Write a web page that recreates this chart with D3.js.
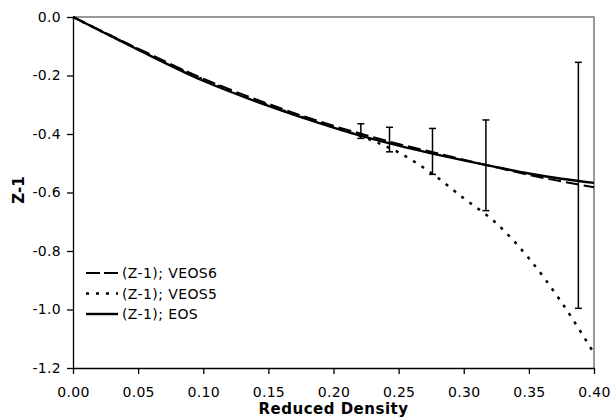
<!DOCTYPE html>
<html>
<head>
<meta charset="utf-8">
<script src="https://cdn.jsdelivr.net/npm/d3@7"></script>
<style>
  body { margin: 0; background: #fff; }
  svg { font-family: "DejaVu Sans", Verdana, sans-serif; }
</style>
</head>
<body>
<svg id="chart"></svg>
<script>
// reduced density grid for the curves
const density = [0, 0.05, 0.10, 0.15, 0.20, 0.225, 0.25, 0.275, 0.30, 0.325, 0.35, 0.375, 0.40];
const veos6 = [0, -0.108, -0.211, -0.297, -0.372, -0.404, -0.434, -0.461, -0.488, -0.514, -0.540, -0.562, -0.582];
const veos5 = [0, -0.110, -0.214, -0.302, -0.377, -0.414, -0.463, -0.533, -0.620, -0.705, -0.825, -0.975, -1.150];
const eos = [0, -0.112, -0.218, -0.304, -0.378, -0.411, -0.440, -0.466, -0.490, -0.513, -0.535, -0.553, -0.567];

// error bars
const errX = [0.221, 0.243, 0.276, 0.317, 0.388];
const errLow = [-0.415, -0.461, -0.538, -0.662, -0.996];
const errHigh = [-0.365, -0.377, -0.381, -0.352, -0.155];

const xTicks = [0, 0.05, 0.10, 0.15, 0.20, 0.25, 0.30, 0.35, 0.40];
const yTicks = [0, -0.2, -0.4, -0.6, -0.8, -1.0, -1.2];

const width = 612, height = 418;
const margin = { top: 17, right: 18, bottom: 50, left: 73 };

const svg = d3.select('#chart').attr('width', width).attr('height', height);

const x = d3.scaleLinear().domain([0, 0.4]).range([margin.left, width - margin.right]);
const y = d3.scaleLinear().domain([-1.2, 0]).range([height - margin.bottom, margin.top]);

// top and right frame (gray)
svg.append('path')
  .attr('d', `M${x(0)},${y(0)}H${x(0.4)}V${y(-1.2)}`)
  .attr('fill', 'none')
  .attr('stroke', '#777')
  .attr('stroke-width', 1.5);

const xAxis = d3.axisBottom(x).tickValues(xTicks).tickSize(6).tickSizeOuter(0);
const yAxis = d3.axisLeft(y).tickValues(yTicks).tickSize(6).tickSizeOuter(0);

const gx = svg.append('g')
  .attr('transform', `translate(0,${y(-1.2)})`)
  .call(xAxis);
const gy = svg.append('g')
  .attr('transform', `translate(${x(0)},0)`)
  .call(yAxis);

[gx, gy].forEach((g) => {
  g.selectAll('path, line').attr('stroke', '#000').attr('stroke-width', 1.3);
  g.selectAll('text').attr('fill', '#000').style('font-size', '14px')
    .style('letter-spacing', '0.3px')
    .style('font-family', '"DejaVu Sans", Verdana, sans-serif');
});
gx.selectAll('text').attr('y', 19).text((d) => d3.format('.2f')(d));
gy.selectAll('text').attr('x', -12).text((d) => d3.format('.1f')(d).replace('−', '-'));

// axis titles
svg.append('text')
  .attr('x', x(0.2))
  .attr('y', 414)
  .attr('text-anchor', 'middle')
  .style('font-size', '15px')
  .style('font-weight', 'bold')
  .style('letter-spacing', '0.5px')
  .text('Reduced Density');

svg.append('text')
  .attr('transform', `translate(24,190) rotate(-90)`)
  .attr('text-anchor', 'middle')
  .style('font-size', '15px')
  .style('font-weight', 'bold')
  .text('Z-1');

// curves
const line = d3.line()
  .x((d) => x(d[0]))
  .y((d) => y(d[1]))
  .curve(d3.curveMonotoneX);

const series = [
  { name: '(Z-1); VEOS6', values: veos6, dash: '13,5', w: 2 },
  { name: '(Z-1); VEOS5', values: veos5, dash: '3,7', w: 2.5 },
  { name: '(Z-1); EOS', values: eos, dash: null, w: 2.4 },
];

series.forEach((s) => {
  svg.append('path')
    .datum(density.map((d, i) => [d, s.values[i]]))
    .attr('d', line)
    .attr('fill', 'none')
    .attr('stroke', '#000')
    .attr('stroke-width', s.w)
    .attr('stroke-dasharray', s.dash);
});

// error bars
const bars = svg.append('g').attr('stroke', '#000').attr('stroke-width', 1.5);
errX.forEach((ex, i) => {
  bars.append('line')
    .attr('x1', x(ex)).attr('x2', x(ex))
    .attr('y1', y(errLow[i])).attr('y2', y(errHigh[i]));
  [errLow[i], errHigh[i]].forEach((v) => {
    bars.append('line')
      .attr('x1', x(ex) - 3.5).attr('x2', x(ex) + 3.5)
      .attr('y1', y(v)).attr('y2', y(v));
  });
});

// legend
const legend = svg.append('g').attr('transform', 'translate(86,273)');
series.forEach((s, i) => {
  const row = legend.append('g').attr('transform', `translate(0,${i * 20.5})`);
  row.append('line')
    .attr('x1', 0).attr('x2', 32)
    .attr('stroke', '#000')
    .attr('stroke-width', s.w)
    .attr('stroke-dasharray', s.dash === '13,5' ? '14,4' : s.dash);
  row.append('text')
    .attr('x', 36)
    .attr('dy', '0.36em')
    .style('font-size', '14px')
    .style('letter-spacing', '0.4px')
    .text(s.name);
});
</script>
</body>
</html>
